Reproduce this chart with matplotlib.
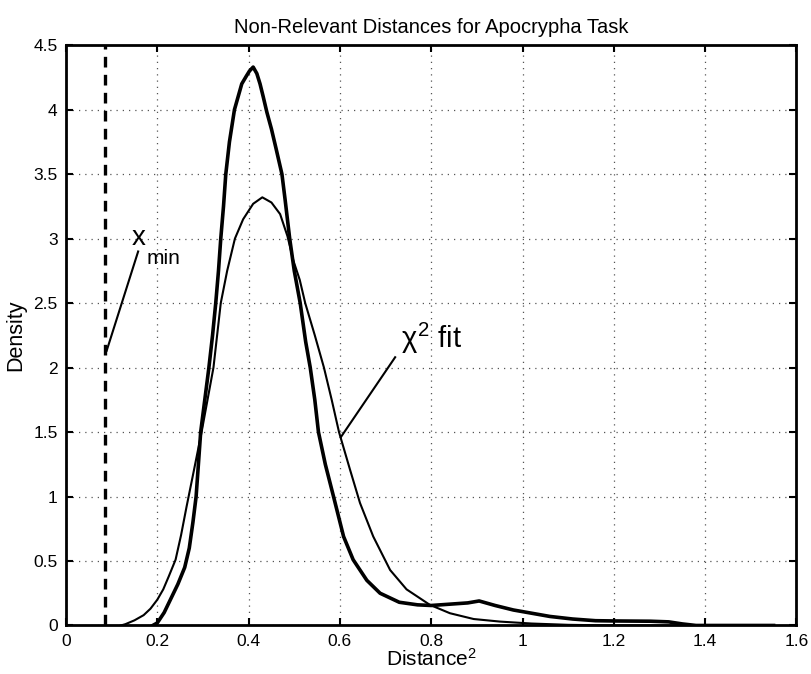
import matplotlib
matplotlib.use("Agg")
import matplotlib.pyplot as plt

plt.rcParams["font.family"] = ["Liberation Sans", "DejaVu Sans"]
plt.rcParams["mathtext.fontset"] = "custom"
plt.rcParams["mathtext.rm"] = "Liberation Sans"
plt.rcParams["mathtext.it"] = "Liberation Sans"

emp_x = [0.19, 0.20, 0.215, 0.23, 0.245, 0.26, 0.27, 0.278, 0.285, 0.295,
         0.304, 0.313, 0.321, 0.328, 0.334, 0.339, 0.345, 0.350, 0.358, 0.369,
         0.377, 0.385, 0.395, 0.402, 0.410, 0.418, 0.425, 0.432, 0.440, 0.450,
         0.460, 0.473, 0.480, 0.490, 0.500, 0.513, 0.525, 0.535, 0.545, 0.553,
         0.568, 0.586, 0.608, 0.629, 0.659, 0.688, 0.730, 0.770, 0.800, 0.840,
         0.880, 0.905, 0.920, 0.940, 0.980, 1.020, 1.060, 1.110, 1.160, 1.200,
         1.280, 1.320, 1.350, 1.380, 1.550]
emp_y = [0.00, 0.02, 0.10, 0.21, 0.32, 0.45, 0.60, 0.80, 1.00, 1.50,
         1.75, 2.00, 2.25, 2.50, 2.75, 3.00, 3.25, 3.50, 3.75, 4.00,
         4.10, 4.20, 4.26, 4.30, 4.33, 4.28, 4.20, 4.10, 3.98, 3.85,
         3.70, 3.50, 3.30, 3.00, 2.75, 2.50, 2.20, 2.00, 1.75, 1.50,
         1.25, 1.00, 0.69, 0.51, 0.35, 0.25, 0.18, 0.16, 0.155, 0.165,
         0.175, 0.19, 0.175, 0.155, 0.12, 0.095, 0.07, 0.05, 0.037, 0.035,
         0.033, 0.028, 0.012, 0.00, 0.00]

# chi-square fit curve
fit_x = [0.12, 0.13, 0.15, 0.17, 0.185, 0.20, 0.213, 0.225, 0.24, 0.252,
         0.264, 0.28, 0.297, 0.31, 0.323, 0.331, 0.339, 0.353, 0.370, 0.388,
         0.410, 0.430, 0.450, 0.469, 0.485, 0.498, 0.512, 0.524, 0.545, 0.565,
         0.582, 0.598, 0.622, 0.644, 0.673, 0.710, 0.746, 0.797, 0.841, 0.893,
         0.951, 1.020, 1.100, 1.200, 1.550]
fit_y = [0.00, 0.01, 0.04, 0.08, 0.13, 0.20, 0.28, 0.38, 0.51, 0.70,
         0.92, 1.20, 1.50, 1.75, 2.00, 2.25, 2.50, 2.75, 3.00, 3.15,
         3.27, 3.32, 3.28, 3.19, 3.02, 2.83, 2.68, 2.50, 2.25, 2.00,
         1.75, 1.50, 1.21, 0.95, 0.69, 0.43, 0.28, 0.16, 0.095, 0.05,
         0.03, 0.015, 0.005, 0.00, 0.00]

x_min = 0.085
x_ticks = [0, 0.2, 0.4, 0.6, 0.8, 1, 1.2, 1.4, 1.6]
x_labels = ["0", "0.2", "0.4", "0.6", "0.8", "1", "1.2", "1.4", "1.6"]
y_ticks = [0, 0.5, 1, 1.5, 2, 2.5, 3, 3.5, 4, 4.5]
y_labels = ["0", "0.5", "1", "1.5", "2", "2.5", "3", "3.5", "4", "4.5"]

fig = plt.figure(figsize=(8.11, 6.74), dpi=100)
ax = fig.add_axes([0.0814, 0.072, 0.9006, 0.861])

ax.plot(emp_x, emp_y, color="black", lw=2.6, solid_joinstyle="round")
ax.plot(fit_x, fit_y, color="black", lw=1.5)
ax.axvline(x_min, color="black", lw=2.4, linestyle=(0, (3.2, 2.2)))

# annotations
ax.plot([0.089, 0.158], [2.13, 2.90], color="black", lw=1.5)
ax.text(0.144, 2.95, "x", fontsize=20, ha="left", va="baseline")
ax.text(0.176, 2.80, "min", fontsize=15, ha="left", va="baseline")

ax.plot([0.602, 0.721], [1.46, 2.08], color="black", lw=1.5)
ax.text(0.733, 2.15, r"$\chi^2$ fit", fontsize=21, ha="left", va="baseline")

ax.set_xlim(0, 1.6)
ax.set_ylim(0, 4.5)
ax.set_xticks(x_ticks, x_labels)
ax.set_yticks(y_ticks, y_labels)
ax.tick_params(direction="in", length=5, width=1.5, top=True, right=True,
               labelsize=12.5, pad=6)
ax.grid(True, color="#555555", linestyle=(0, (1, 4)), lw=0.9)
for s in ax.spines.values():
    s.set_linewidth(2)

ax.set_title("Non-Relevant Distances for Apocrypha Task", fontsize=14.5, pad=9)
ax.set_xlabel(r"Distance$^2$", fontsize=15, labelpad=-1)
ax.set_ylabel("Density", fontsize=15.5, labelpad=5)

fig.savefig("out.png", dpi=100)
